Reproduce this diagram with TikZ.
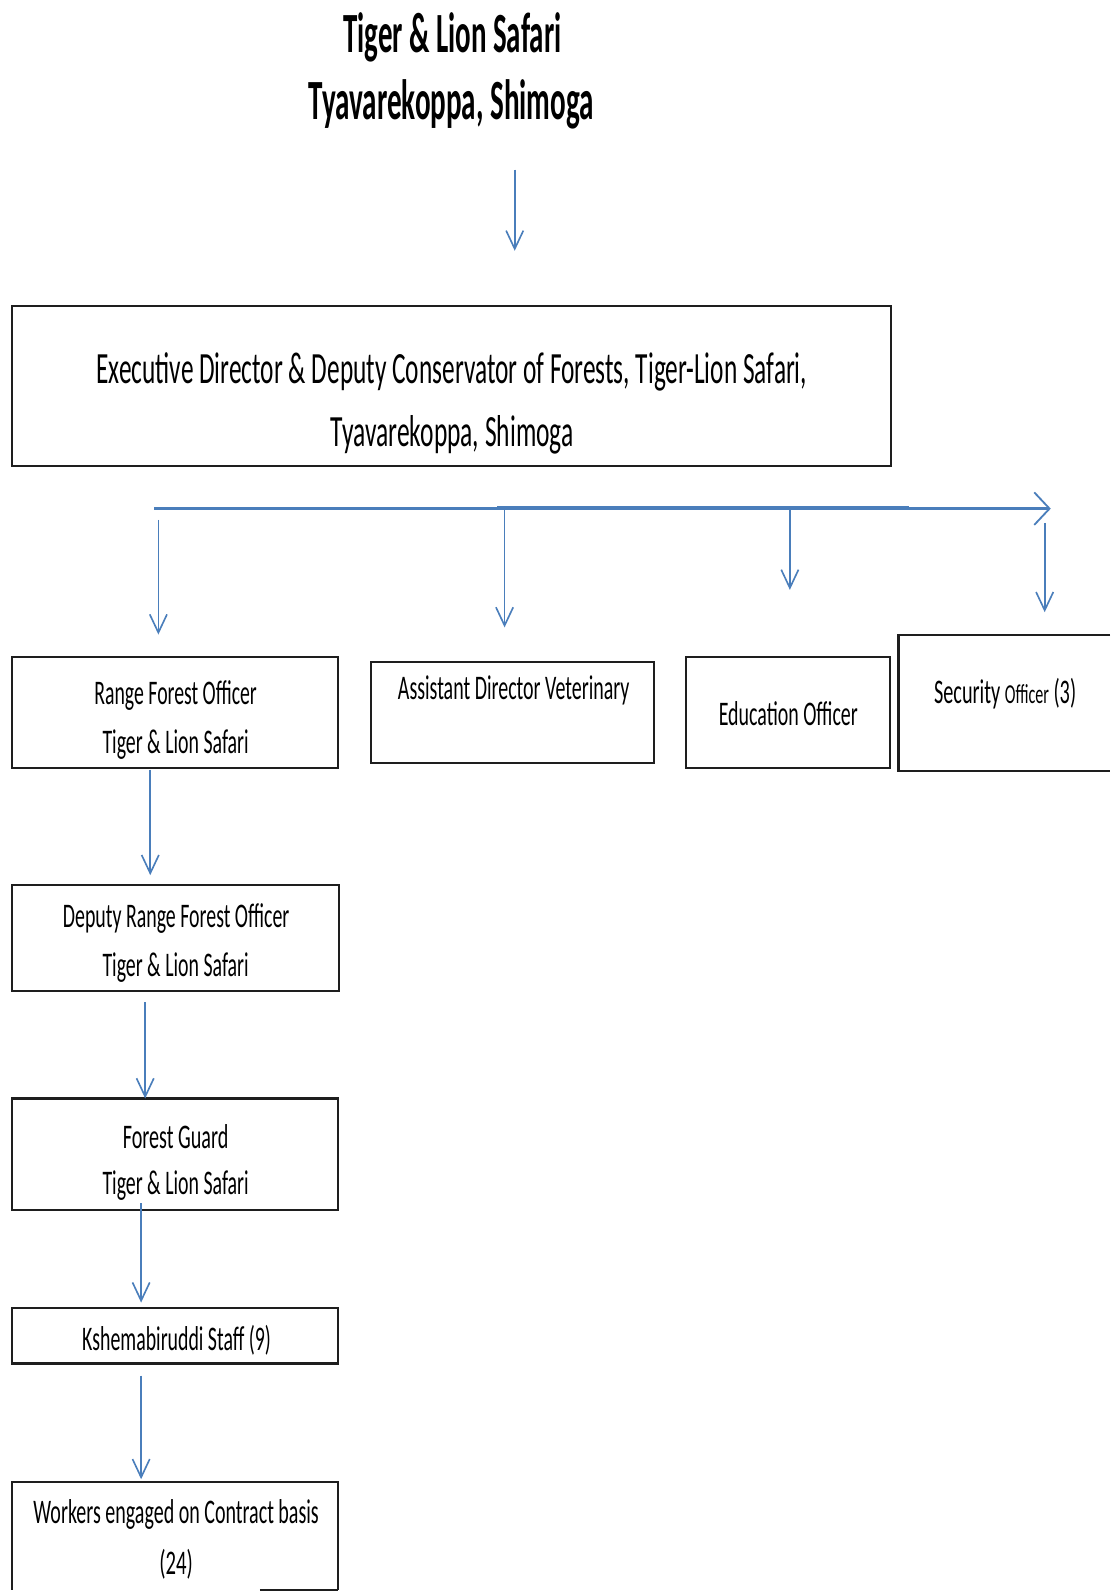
\documentclass[tikz,border=0pt]{standalone}
\usepackage{fontspec}
\setmainfont{Carlito}
\usetikzlibrary{arrows.meta}
\definecolor{connblue}{RGB}{74,126,187}
\definecolor{boxline}{RGB}{30,30,30}
\newcommand{\fw}[2]{\resizebox{#1pt}{\height}{#2}}
\begin{document}
\begin{tikzpicture}[x=1pt,y=-1pt,
  box/.style={draw=boxline, line width=2pt, inner sep=0pt, outer sep=0pt},
  openbox/.style={draw=none, inner sep=0pt, outer sep=0pt},
  edge/.style={draw=boxline, line width=2pt},
  ttl/.style={inner sep=0pt, font=\fontsize{56}{60}\selectfont\bfseries},
  tex/.style={inner sep=0pt, font=\fontsize{44}{48}\selectfont},
  txt/.style={inner sep=0pt, font=\fontsize{34}{40}\selectfont},
  arr/.style={draw=connblue, line width=1.6pt, -{Straight Barb[length=18pt,width=17pt,line width=1.6pt]}},
  bus/.style={draw=connblue, line width=2.6pt, -{Straight Barb[length=15pt,width=32pt,line width=1.8pt]}}
]
\useasboundingbox (0,0) rectangle (1093.4,1568.1);
\fill[white] (0,0) rectangle (1093.4,1568.1);

% title
\node[ttl] (t1) at (445.5,37) {\fw{215}{Tiger \& Lion Safari}};
\node[ttl] (t2) at (444.5,103) {\fw{281}{Tyavarekoppa, Shimoga}};

% boxes
\node[box, minimum width=866pt, minimum height=158pt] (ex) at (445,380) {};
\node[box, minimum width=321pt, minimum height=109pt] (ra) at (172.5,701.5) {};
\node[box, minimum width=279pt, minimum height=100pt] (ad) at (504.5,702) {};
\node[box, minimum width=201pt, minimum height=109pt] (ed) at (776.5,701.5) {};
\node[openbox, minimum width=208.4pt, minimum height=134pt] (so) at (989.2,692) {};
\draw[edge] (so.north east) -- (so.north west) -- (so.south west) -- (so.south east);
\node[box, minimum width=322pt, minimum height=104pt] (dr) at (173,924) {};
\node[box, minimum width=321pt, minimum height=110pt] (fg) at (172.5,1137) {};
\node[box, minimum width=321pt, minimum height=55pt] (ks) at (172.5,1315.5) {};
\node[openbox, minimum width=321pt, minimum height=106pt] (wk) at (172.5,1513) {};
\draw[edge] (wk.south west) -- (wk.north west) -- (wk.north east) -- (wk.south east);
\coordinate (wkb) at (256,1566);
\draw[edge] (wkb) -- (wk.south east);

% texts
\node[tex] (ex1) at (445,366) {\fw{700}{Executive Director \& Deputy Conservator of Forests, Tiger-Lion Safari,}};
\node[tex] (ex2) at (445.5,428) {\fw{239}{Tyavarekoppa, Shimoga}};
\node[txt] (ra1) at (173,685) {\fw{160}{Range Forest Officer}};
\node[txt] (ra2) at (173,733) {\fw{144}{Tiger \& Lion Safari}};
\node[txt] (ad1) at (506,680) {\fw{228}{Assistant Director Veterinary}};
\node[txt] (ed1) at (776.5,703) {\fw{137}{Education Officer}};
\node[txt] (so1) at (990,683) {\fw{140}{Security {\fontsize{27}{32}\selectfont Officer} (3)}};
\node[txt] (dr1) at (173.5,905) {\fw{223}{Deputy Range Forest Officer}};
\node[txt] (dr2) at (173,953) {\fw{144}{Tiger \& Lion Safari}};
\node[txt] (fg1) at (173,1120) {\fw{104}{Forest Guard}};
\node[txt] (fg2) at (173,1168) {\fw{144}{Tiger \& Lion Safari}};
\node[txt] (ks1) at (174,1320) {\fw{186}{Kshemabiruddi Staff (9)}};
\node[txt] (wk1) at (173.5,1492) {\fw{281}{Workers engaged on Contract basis}};
\node[txt] (wk2) at (173.5,1541) {\fw{33}{(24)}};

% connectors
\coordinate (tA) at (507,167);
\draw[arr, shorten >=54pt] (tA) -- (ex.north -| tA);

\coordinate (busL) at (152,501);
\coordinate (busR) at (1035,501);
\coordinate (busM1) at (490,500);
\coordinate (busM2) at (895,500);
\draw[bus] (busL) -- (busR);
\draw[connblue, line width=3.8pt] (busM1) -- (busM2);

\coordinate (d1) at (156,512);
\coordinate (d2) at (497,501);
\coordinate (d3) at (778,501);
\coordinate (d4) at (1029,515);
\draw[arr, shorten >=22pt] (d1) -- (ra.north -| d1);
\draw[arr, shorten >=34pt] (d2) -- (ad.north -| d2);
\draw[arr, shorten >=66pt] (d3) -- (ed.north -| d3);
\draw[arr, shorten >=22pt] (d4) -- (so.north -| d4);

\coordinate (x1) at (148,0);
\coordinate (x2) at (143,0);
\coordinate (x3) at (139,0);
\draw[arr, shorten <=2pt, shorten >=10pt] (ra.south -| x1) -- (dr.north -| x1);
\draw[arr, shorten <=11pt] (dr.south -| x2) -- (fg.north -| x2);
\draw[arr, shorten <=-7pt, shorten >=5pt] (fg.south -| x3) -- (ks.north -| x3);
\draw[arr, shorten <=12pt, shorten >=3pt] (ks.south -| x3) -- (wk.north -| x3);
\end{tikzpicture}
\end{document}
